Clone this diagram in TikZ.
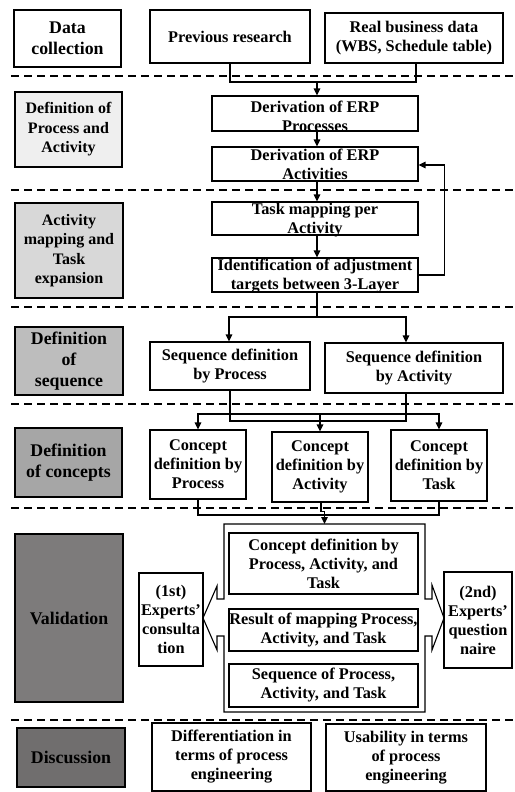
\documentclass[tikz,border=0pt]{standalone}
\usepackage{fontspec}
\setmainfont{Liberation Serif}
\usetikzlibrary{arrows.meta}
\definecolor{g1}{HTML}{EFEFEF}
\definecolor{g2}{HTML}{D8D8D8}
\definecolor{g3}{HTML}{BDBDBD}
\definecolor{g4}{HTML}{A6A6A6}
\definecolor{g5}{HTML}{7D7B7B}
\definecolor{g6}{HTML}{706E6E}
\tikzset{
  box/.style={draw, line width=1.1pt, fill=white, align=center, inner sep=0pt,
    font=\bfseries\fontsize{16.3}{19}\selectfont},
  lbl/.style={box, font=\bfseries\fontsize{16}{19.5}\selectfont},
  lblbig/.style={box, font=\bfseries\fontsize{17.8}{21}\selectfont},
  txt/.style={align=center, inner sep=0pt, font=\bfseries\fontsize{16.3}{19}\selectfont},
  sep/.style={line width=1.2pt, dash pattern=on 8pt off 5pt},
  con/.style={line width=1.5pt},
  arr/.style={con, -{Triangle[length=7pt,width=6.5pt]}},
}
\begin{document}
\begin{tikzpicture}[x=1pt,y=-1pt]
\useasboundingbox (0,0) rectangle (514,792);
% separators
\foreach \yy in {76,190,307,404,508,720} \draw[sep] (11,\yy) -- (514,\yy);
% left labels
\node[lblbig, minimum width=107pt, minimum height=57pt] (L1) at (67.5,38.5) {Data\\collection};
\node[lbl, fill=g1, minimum width=107pt, minimum height=75pt] (L2) at (68.5,129.5) {Definition of\\Process and\\Activity};
\node[lbl, fill=g2, minimum width=108pt, minimum height=95pt] (L3) at (69,250.5) {Activity\\mapping and\\Task\\expansion};
\node[lblbig, fill=g3, minimum width=108pt, minimum height=68pt] (L4) at (69,361) {Definition\\of\\sequence};
\node[lblbig, fill=g4, minimum width=107pt, minimum height=69pt] (L5) at (68.5,462.5) {Definition\\of concepts};
\node[lblbig, fill=g5, minimum width=108pt, minimum height=168pt] (L6) at (69,618) {Validation};
\node[lblbig, fill=g6, minimum width=108pt, minimum height=59pt] (L7) at (71,757.5) {Discussion};
% data collection
\node[box, minimum width=160pt, minimum height=53pt] (prev) at (230,36.5) {Previous research};
\node[box, minimum width=178pt, minimum height=50pt] (real) at (414,38) {Real business data\\(WBS, Schedule table)};
% process/activity
\node[box, minimum width=206pt, minimum height=35pt] (erpP) at (315,113.5) {};
\node[txt] (erpPt) at (315,116.5) {Derivation of ERP\\Processes};
\node[box, minimum width=206pt, minimum height=34pt] (erpA) at (315,164) {};
\node[txt] (erpAt) at (315,164.5) {Derivation of ERP\\Activities};
\node[box, minimum width=206pt, minimum height=33pt] (task) at (315,218.5) {};
\node[txt] (taskt) at (315,220.5) {Task mapping per\\Activity};
\node[box, minimum width=206pt, minimum height=34pt] (ident) at (315,275) {};
\node[txt] (identt) at (315,276.5) {Identification of adjustment\\targets between 3-Layer};
% sequence
\node[box, minimum width=160pt, minimum height=48pt] (seqP) at (230,366) {Sequence definition\\by Process};
\node[box, minimum width=178pt, minimum height=50pt] (seqA) at (414,368) {Sequence definition\\by Activity};
% concepts
\node[box, minimum width=96pt, minimum height=69pt] (cP) at (198,464.5) {Concept\\definition by\\Process};
\node[box, minimum width=96pt, minimum height=70pt] (cA) at (320,467) {Concept\\definition by\\Activity};
\node[box, minimum width=96pt, minimum height=71pt] (cT) at (439,465.5) {Concept\\definition by\\Task};
% validation container
\coordinate (cont) at (324.5,524);
\draw[line width=1.1pt, fill=white] (224,524) -- (425,524) -- (425,599) -- (432,599) -- (432,585) -- (444,618) -- (432,650) -- (432,636) -- (425,636) -- (425,712) -- (224,712) -- (224,636) -- (217,636) -- (217,650) -- (203,618) -- (217,586) -- (217,599) -- (224,599) -- cycle;
\node[box, minimum width=189pt, minimum height=61pt] (v1) at (323.5,563.5) {Concept definition by\\Process, Activity, and\\Task};
\node[box, minimum width=189pt, minimum height=42pt] (v2) at (323.5,630) {Result of mapping Process,\\Activity, and Task};
\node[box, minimum width=189pt, minimum height=43pt] (v3) at (323.5,685.5) {Sequence of Process,\\Activity, and Task};
\node[box, minimum width=64pt, minimum height=93pt] (exp1) at (171,619.5) {(1st)\\Experts'\\consulta\\tion};
\node[box, minimum width=68pt, minimum height=96pt] (exp2) at (478,620) {(2nd)\\Experts'\\question\\naire};
% discussion
\node[box, minimum width=159pt, minimum height=68pt] (diff) at (231.5,757) {Differentiation in\\terms of process\\engineering};
\node[box, minimum width=160pt, minimum height=67pt] (usab) at (406,757.5) {Usability in terms\\of process\\engineering};
% connectors
\coordinate (j1) at (317,82);
\draw[con] (prev.south) |- (j1) -| ([xshift=2pt]real.south);
\draw[arr] (j1) -- (erpP.north -| j1);
\draw[arr] ([xshift=2pt]erpP.south) -- ([xshift=2pt]erpA.north);
\draw[arr] ([xshift=2pt]erpA.south) -- ([xshift=2pt]task.north);
\draw[arr] ([xshift=2pt]task.south) -- ([xshift=2pt]ident.north);
\draw[arr] (ident.east) -- ++(26,0) |- ([yshift=-1pt]erpA.east);
\coordinate (j2) at (317,317);
\draw[con] ([xshift=2pt]ident.south) -- (j2);
\draw[arr] (j2) -| ([xshift=-1pt]seqP.north);
\draw[arr] (j2) -| ([xshift=-8pt]seqA.north);
\coordinate (g) at (318,421);
\coordinate (d) at (320,414);
\draw[con] (seqP.south) |- (g) -| ([xshift=-8pt]seqA.south);
\draw[arr] (d) -| (cP.north);
\draw[arr] (d) -| (cT.north);
\draw[arr] (d) -- (cA.north);
\coordinate (h) at (320,515);
\draw[con] (cP.south) |- (h) -| (cT.south);
\draw[arr] ([xshift=1pt]cA.south) -- ++(0,9) -| (cont);
\end{tikzpicture}
\end{document}
